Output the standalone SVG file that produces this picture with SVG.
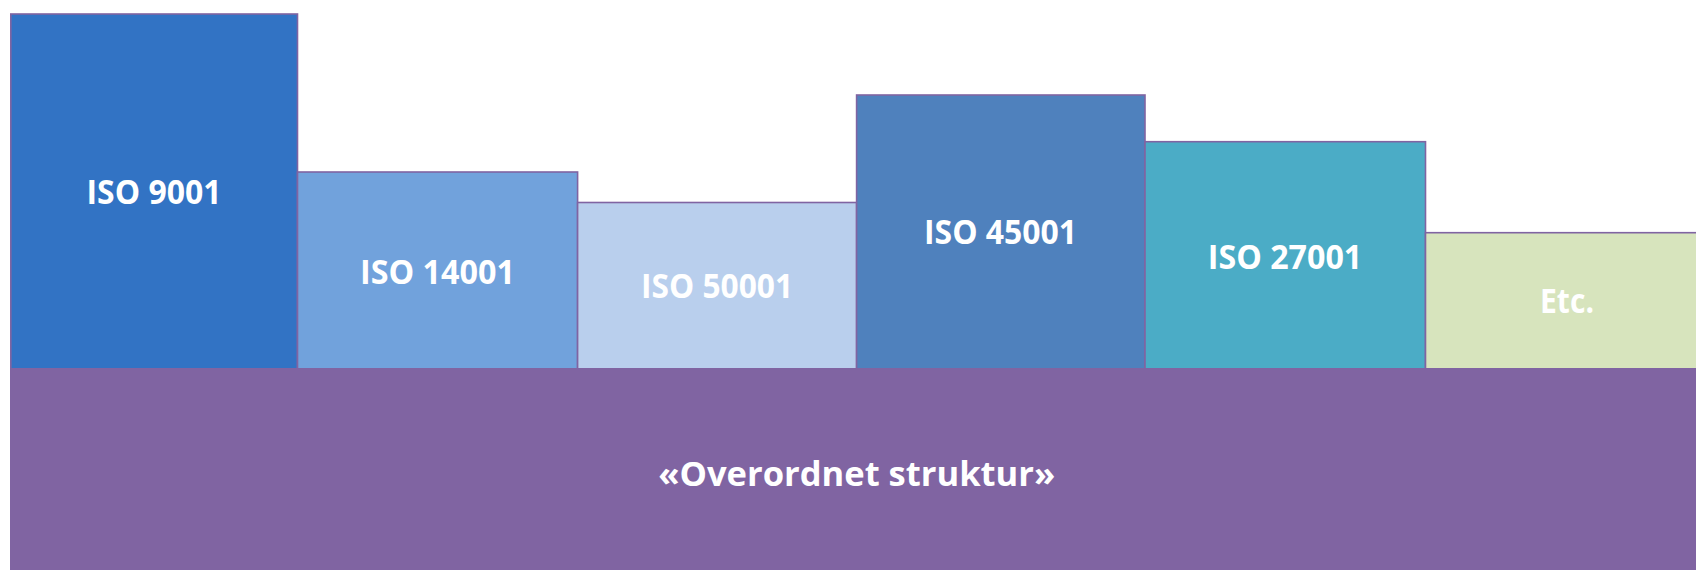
<svg xmlns="http://www.w3.org/2000/svg" width="1696" height="570" viewBox="0 0 1696 570">
<style>
.box{stroke:#8064a2;stroke-width:1.6}
.lbl{font-family:"Open Sans",Lato,"Liberation Sans",sans-serif;font-weight:bold;font-size:34px;fill:#ffffff;text-anchor:middle}
</style>
<rect x="0" y="0" width="1696" height="570" fill="#ffffff"/>
<g id="iso9001">
<rect class="box" x="10.8" y="14" width="286.7" height="360" fill="#3273c4"/>
<text class="lbl" x="154" y="204" textLength="135" lengthAdjust="spacingAndGlyphs">ISO 9001</text>
</g>
<g id="iso14001">
<rect class="box" x="297.5" y="172" width="280.1" height="202" fill="#71a2dc"/>
<text class="lbl" x="437.5" y="284" textLength="155" lengthAdjust="spacingAndGlyphs">ISO 14001</text>
</g>
<g id="iso50001">
<rect class="box" x="577.6" y="202.5" width="279" height="172" fill="#b9cfed"/>
<text class="lbl" x="717" y="298.3" textLength="152" lengthAdjust="spacingAndGlyphs">ISO 50001</text>
</g>
<g id="iso45001">
<rect class="box" x="856.6" y="95" width="288.4" height="280" fill="#4f81bd"/>
<text class="lbl" x="1000.5" y="244.3" textLength="153" lengthAdjust="spacingAndGlyphs">ISO 45001</text>
</g>
<g id="iso27001">
<rect class="box" x="1145" y="141.7" width="280.5" height="233" fill="#4bacc6"/>
<text class="lbl" x="1285" y="269" textLength="154.5" lengthAdjust="spacingAndGlyphs">ISO 27001</text>
</g>
<g id="etc">
<rect class="box" x="1425.5" y="232.7" width="290" height="142" fill="#d7e4bd"/>
<text class="lbl" x="1567" y="313.3" textLength="54" lengthAdjust="spacingAndGlyphs">Etc.</text>
</g>
<g id="overordnet">
<rect x="10" y="368" width="1700" height="210" fill="#8064a2"/>
<text class="lbl" x="856.7" y="485.7" textLength="397" lengthAdjust="spacingAndGlyphs">«Overordnet struktur»</text>
</g>
<g id="connectors"></g>
</svg>
